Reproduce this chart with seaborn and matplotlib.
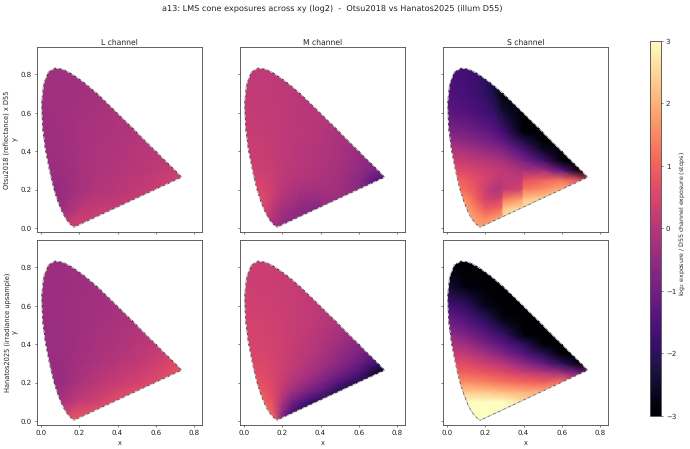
import matplotlib
matplotlib.use("Agg")
import matplotlib.pyplot as plt
import numpy as np
import seaborn as sns
from matplotlib.colors import Normalize
from matplotlib.patches import Polygon

sns.set_style("ticks")
plt.rcParams.update({
    "font.family": "DejaVu Sans",
    "text.hinting": "no_hinting",
    "text.color": "#222222",
    "axes.labelcolor": "#222222",
    "xtick.color": "#444444",
    "ytick.color": "#444444",
    "xtick.labelcolor": "#222222",
    "ytick.labelcolor": "#222222",
    "axes.edgecolor": "#555555",
    "axes.linewidth": 1.3,
    "xtick.major.size": 3.5,
    "ytick.major.size": 3.5,
    "xtick.major.width": 1.0,
    "ytick.major.width": 1.0,
})

TITLE = "a13: LMS cone exposures across xy (log2)  -  Otsu2018 vs Hanatos2025 (illum D55)"
CHANNELS = ["L channel", "M channel", "S channel"]
ROW_LABELS = ["Otsu2018 (reflectance) x D55", "Hanatos2025 (irradiance upsample)"]
CBAR_LABEL = r"log$_2$ exposure / D55 channel exposure (stops)"

# CIE 1931 spectral locus
LOCUS_X = [.1741, .1733, .1714, .1644, .1566, .1440, .1241, .1096, .0913, .0687, .0454, .0235, .0082,
           .0039, .0139, .0389, .0743, .1142, .1547, .1929, .2296, .2658, .3016, .3373, .3731, .4087,
           .4441, .4788, .5125, .5448, .5752, .6029, .6270, .6658, .6915, .7079, .7260, .7347]
LOCUS_Y = [.0050, .0048, .0051, .0109, .0177, .0297, .0578, .0868, .1327, .2007, .2950, .4127, .5384,
           .6548, .7502, .8120, .8338, .8262, .8059, .7816, .7543, .7243, .6923, .6589, .6245, .5896,
           .5547, .5202, .4866, .4544, .4242, .3965, .3725, .3340, .3083, .2920, .2740, .2653]

# Sampling nodes of the exposure tables
X_COARSE = [0, .1, .2, .3, .4, .5, .6, .7, .8]
Y_COARSE = [.9, .8, .7, .6, .5, .4, .3, .2, .1, 0]
X_EDGED = [0, .1, .15, .2, .25, .285, .295, .39, .40, .5, .6, .7, .8]
Y_OTSU_S = [.9, .8, .7, .6, .5, .45, .4, .35, .3, .25, .2, .15, .1, .05, 0]
Y_OTSU_M = [.9, .8, .7, .6, .5, .4, .3, .25, .2, .15, .1, .05, 0]
X_HAN_M = [0, .1, .15, .2, .25, .3, .35, .4, .5, .6, .7, .8]
Y_HAN_M = [.9, .8, .7, .6, .5, .4, .35, .3, .25, .2, .15, .1, .05, 0]
Y_HAN_S = [.9, .8, .7, .6, .55, .5, .45, .4, .35, .3, .25, .2, .15, .1, .05, 0]

OTSU_L = [
    [-.30, -.30, -.27, -.22, -.18, -.12, -.08, -.05, -.05],
    [-.30, -.30, -.27, -.22, -.18, -.12, -.08, -.05, -.05],
    [-.32, -.30, -.26, -.22, -.16, -.10, -.05, -.02, -.02],
    [-.34, -.30, -.24, -.20, -.14, -.08, -.02, .02, .02],
    [-.36, -.31, -.22, -.17, -.10, -.04, .02, .08, .10],
    [-.38, -.33, -.22, -.14, -.08, .00, .06, .12, .15],
    [-.42, -.36, -.22, -.12, -.04, .04, .14, .28, .32],
    [-.50, -.46, -.22, -.05, .04, .15, .30, .45, .50],
    [-.50, -.40, .05, .20, .25, .35, .45, .55, .60],
    [-.20, .30, .45, .45, .45, .50, .55, .60, .60],
]
HAN_L = [
    [-.36, -.36, -.34, -.30, -.26, -.20, -.15, -.10, -.10],
    [-.36, -.36, -.34, -.30, -.26, -.20, -.15, -.10, -.10],
    [-.38, -.36, -.33, -.28, -.24, -.18, -.12, -.08, -.08],
    [-.38, -.36, -.32, -.27, -.21, -.15, -.08, -.02, .00],
    [-.40, -.37, -.31, -.25, -.17, -.08, .00, .08, .12],
    [-.42, -.38, -.30, -.20, -.10, .00, .12, .25, .30],
    [-.45, -.40, -.27, -.12, .02, .16, .32, .60, .70],
    [-.46, -.40, -.18, .05, .25, .42, .62, .85, .90],
    [-.40, -.25, .20, .42, .68, .85, .95, 1.0, 1.0],
    [-.10, .70, .95, 1.0, 1.0, 1.0, 1.0, 1.0, 1.0],
]
OTSU_M = [
    [.15, .15, .12, .10, .08, .05, .05, .00, .00, -.05, -.10, -.10, -.10],
    [.15, .15, .12, .10, .08, .05, .05, .00, .00, -.05, -.10, -.10, -.10],
    [.15, .15, .12, .10, .08, .05, .05, .00, .00, -.05, -.10, -.15, -.15],
    [.20, .18, .15, .12, .08, .05, .05, .00, .00, -.10, -.20, -.25, -.25],
    [.25, .22, .18, .12, .08, .05, .05, -.02, -.02, -.15, -.30, -.40, -.45],
    [.30, .25, .20, .12, .08, .03, .03, -.05, -.05, -.20, -.40, -.60, -.70],
    [.40, .30, .25, .12, .05, .00, .00, -.10, -.10, -.25, -.50, -.90, -1.0],
    [.50, .40, .30, .10, .00, -.05, -.05, -.15, -.15, -.30, -.60, -1.40, -1.5],
    [.55, .50, .30, .05, -.10, -.15, -.20, -.30, -.25, -.30, -.65, -1.30, -1.5],
    [.60, .60, .25, -.05, -.20, -.30, -.40, -.45, -.35, -.40, -.80, -1.30, -1.5],
    [.60, .55, .10, -.25, -.40, -.50, -.55, -.75, -.55, -.50, -.80, -1.30, -1.5],
    [.50, .35, -.05, -.40, -.55, -.60, -.60, -.80, -.60, -.60, -.80, -1.30, -1.5],
    [.40, .15, -.25, -.50, -.60, -.70, -.70, -.80, -.60, -.60, -.80, -1.30, -1.5],
]
HAN_M = [
    [.30, .30, .30, .28, .25, .20, .15, .10, .00, -.10, -.20, -.30],
    [.30, .30, .30, .28, .25, .20, .15, .10, .00, -.10, -.20, -.30],
    [.32, .30, .30, .28, .25, .20, .15, .10, .00, -.10, -.25, -.35],
    [.38, .35, .33, .30, .25, .20, .15, .10, -.05, -.20, -.35, -.45],
    [.42, .40, .37, .32, .27, .20, .13, .05, -.15, -.40, -.60, -.70],
    [.50, .45, .40, .33, .25, .15, .05, -.05, -.35, -.70, -1.0, -1.1],
    [.55, .50, .42, .33, .22, .10, .00, -.12, -.50, -.85, -1.2, -1.4],
    [.60, .55, .45, .33, .20, .05, -.10, -.25, -.65, -1.1, -1.8, -2.2],
    [.65, .60, .50, .30, .12, -.05, -.25, -.45, -.95, -1.5, -2.6, -2.9],
    [.75, .70, .55, .25, -.05, -.30, -.55, -.80, -1.5, -2.2, -2.5, -2.9],
    [.85, .85, .60, .10, -.35, -.70, -1.05, -1.3, -2.2, -2.5, -2.5, -2.9],
    [1.0, 1.05, .70, -.10, -.90, -1.4, -1.8, -2.0, -2.3, -2.5, -2.5, -2.9],
    [1.3, 1.3, .90, -.50, -1.5, -2.0, -2.2, -2.3, -2.3, -2.5, -2.5, -2.9],
    [1.5, 1.5, 1.3, -.80, -1.8, -2.2, -2.3, -2.3, -2.3, -2.5, -2.5, -2.9],
]
OTSU_S = [
    [-1.55, -1.7, -1.8, -2.0, -2.4, -2.9, -3.0, -3.0, -3.0, -3.0, -3.0, -3.0, -3.0],
    [-1.55, -1.7, -1.8, -2.0, -2.4, -2.9, -3.0, -3.0, -3.0, -3.0, -3.0, -3.0, -3.0],
    [-1.5, -1.65, -1.75, -1.95, -2.3, -2.8, -2.9, -3.0, -3.0, -3.0, -3.0, -3.0, -3.0],
    [-1.3, -1.45, -1.55, -1.7, -1.9, -2.3, -2.4, -3.0, -3.0, -3.0, -3.0, -3.0, -3.0],
    [-.80, -.95, -1.05, -1.2, -1.4, -1.6, -1.7, -2.8, -2.9, -3.0, -3.0, -3.0, -3.0],
    [-.40, -.60, -.70, -.85, -1.05, -1.2, -1.25, -2.1, -2.15, -3.0, -3.0, -3.0, -3.0],
    [.00, -.15, -.25, -.40, -.55, -.70, -.75, -1.4, -1.45, -2.5, -3.0, -3.0, -3.0],
    [.35, .20, .10, .00, -.10, -.20, -.20, -.80, -.85, -1.6, -2.9, -3.0, -3.0],
    [.70, .55, .45, .35, .25, .15, .15, -.15, -.15, -.30, -1.3, -3.0, -3.0],
    [1.1, .90, .70, .45, .20, .10, .12, .20, .70, 1.0, 1.2, .60, .00],
    [1.5, 1.1, .80, .35, -.05, .00, .20, .45, 1.3, 1.6, 2.0, 1.5, 1.5],
    [1.7, 1.5, 1.0, .45, .35, .50, 1.3, 1.8, 2.3, 2.4, 2.3, 2.0, 2.0],
    [1.8, 1.8, 1.4, .90, 1.0, 1.2, 2.3, 2.6, 2.6, 2.5, 2.3, 2.0, 2.0],
    [1.8, 2.0, 1.7, 1.5, 1.7, 1.9, 2.6, 2.6, 2.6, 2.5, 2.3, 2.0, 2.0],
    [1.8, 2.0, 1.8, 1.8, 1.8, 1.9, 2.6, 2.6, 2.6, 2.5, 2.3, 2.0, 2.0],
]
HAN_S = [
    [-3.0, -3.0, -3.0, -3.0, -3.0, -3.0, -3.0, -3.0, -3.0],
    [-3.0, -3.0, -3.0, -3.0, -3.0, -3.0, -3.0, -3.0, -3.0],
    [-2.4, -2.85, -3.0, -3.0, -3.0, -3.0, -3.0, -3.0, -3.0],
    [-1.6, -1.95, -2.7, -3.0, -3.0, -3.0, -3.0, -3.0, -3.0],
    [-1.25, -1.6, -2.2, -3.0, -3.0, -3.0, -3.0, -3.0, -3.0],
    [-.90, -1.25, -1.75, -2.5, -3.0, -3.0, -3.0, -3.0, -3.0],
    [-.50, -.85, -1.35, -1.9, -2.9, -3.0, -3.0, -3.0, -3.0],
    [-.10, -.35, -.90, -1.4, -2.0, -3.0, -3.0, -3.0, -3.0],
    [.30, .15, -.25, -.85, -1.4, -2.1, -3.0, -3.0, -3.0],
    [.65, .60, .30, .00, -.60, -1.2, -2.0, -3.0, -3.0],
    [1.0, 1.0, .85, .60, .35, .05, -.30, -1.0, -1.0],
    [1.5, 1.6, 1.45, 1.25, 1.1, 1.0, 1.3, .50, .50],
    [2.0, 2.35, 2.3, 2.15, 2.05, 2.0, 2.0, 1.5, 1.5],
    [2.85, 3.0, 3.0, 3.0, 2.6, 2.2, 2.0, 1.5, 1.5],
    [3.0, 3.0, 3.0, 3.0, 2.6, 2.2, 2.0, 1.5, 1.5],
    [3.0, 3.0, 3.0, 3.0, 2.6, 2.2, 2.0, 1.5, 1.5],
]

PANELS = [
    [(X_COARSE, Y_COARSE, OTSU_L), (X_EDGED, Y_OTSU_M, OTSU_M), (X_EDGED, Y_OTSU_S, OTSU_S)],
    [(X_COARSE, Y_COARSE, HAN_L), (X_HAN_M, Y_HAN_M, HAN_M), (X_COARSE, Y_HAN_S, HAN_S)],
]

W, H = 690, 449
fig = plt.figure(figsize=(W / 50, H / 50), dpi=50)
COL_LEFT = [37, 240, 443]
ROW_TOP = [47, 240]
AX_W, AX_H = 165, 185

cmap = sns.color_palette("magma", as_cmap=True)
norm = Normalize(vmin=-3, vmax=3)

for r, row in enumerate(PANELS):
    for c, (xn, yn, table) in enumerate(row):
        ax = fig.add_axes([COL_LEFT[c] / W, 1 - (ROW_TOP[r] + AX_H) / H, AX_W / W, AX_H / H])
        mesh = ax.pcolormesh(xn, yn, np.array(table), cmap=cmap, norm=norm, shading="gouraud")
        gamut = Polygon(np.column_stack([LOCUS_X, LOCUS_Y]), closed=True, transform=ax.transData)
        mesh.set_clip_path(gamut)
        closed_x = LOCUS_X + LOCUS_X[:1]
        closed_y = LOCUS_Y + LOCUS_Y[:1]
        ax.plot(closed_x, closed_y, color="#333333", lw=1.0)
        ax.plot(closed_x, closed_y, color="white", lw=1.0, dashes=(5, 3))
        ax.set_xlim(-0.02, 0.84)
        ax.set_ylim(-0.02, 0.943)
        ax.set_xticks([0, .2, .4, .6, .8])
        ax.set_yticks([0, .2, .4, .6, .8])
        if r == 0:
            ax.set_title(CHANNELS[c], fontsize=11, pad=3.5)
            ax.tick_params(labelbottom=False)
        else:
            ax.set_xlabel("x", fontsize=9.5)
        if c == 0:
            ax.set_ylabel(f"{ROW_LABELS[r]}\ny", fontsize=9.5, linespacing=1.3, labelpad=3)
        else:
            ax.tick_params(labelleft=False)

cax = fig.add_axes([650 / W, 1 - 416 / H, 11 / W, 375 / H])
cbar = fig.colorbar(plt.cm.ScalarMappable(norm=norm, cmap=cmap), cax=cax)
cbar.set_label(CBAR_LABEL, fontsize=9, y=0.513, labelpad=2)
cbar.set_ticks([-3, -2, -1, 0, 1, 2, 3])
fig.suptitle(TITLE, fontsize=11.7, x=0.481, y=0.99, va="top")
fig.savefig("out.png", dpi=50)
